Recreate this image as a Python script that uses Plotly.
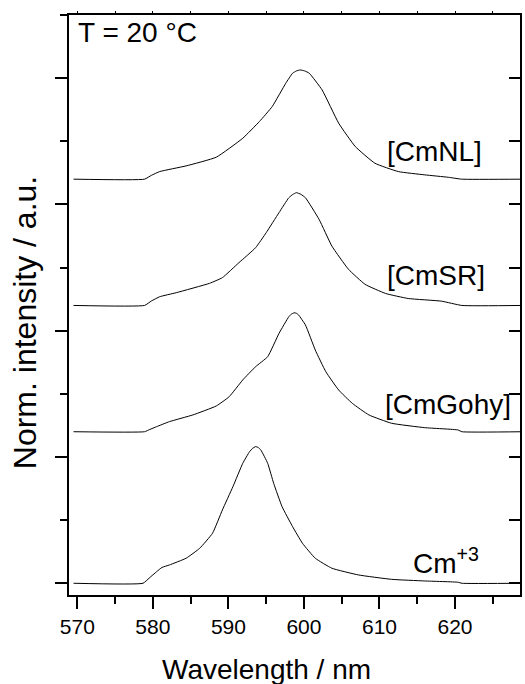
import plotly.graph_objects as go

# ---- data ----
series_names = ["Cm<sup>+3</sup>", "[CmGohy]", "[CmSR]", "[CmNL]"]
offsets = [0.0, 1.2, 2.2, 3.2]

wl_cm = [569.5, 578.7, 579.5, 580.5, 581.2, 582.2, 584.4, 586.2, 587.9, 589.2, 590.6, 591.9,
         592.8, 593.2, 593.6, 593.95, 594.3, 595.2, 596.0, 597.1, 598.5, 599.8, 601.5, 603.7,
         607.2, 611.6, 616.0, 620.4, 620.9, 629.0]
int_cm = [0, 0, 0.04, 0.092, 0.125, 0.145, 0.198, 0.277, 0.396, 0.58, 0.765, 0.95,
          1.042, 1.068, 1.082, 1.075, 1.055, 0.95, 0.79, 0.607, 0.448, 0.317, 0.198, 0.119,
          0.066, 0.031, 0.018, 0.008, 0, 0]

wl_gohy = [569.5, 578.9, 579.6, 580.5, 582.2, 585.3, 588.4, 590.1, 591.9, 593.6, 595.2, 596.7,
           598.0, 598.3, 598.7, 599.0, 599.3, 600.2, 601.5, 602.9, 604.6, 606.4, 608.6, 611.6,
           616.0, 620.4, 620.9, 629.0]
int_gohy = [0, 0, 0.018, 0.04, 0.08, 0.133, 0.204, 0.277, 0.41, 0.515, 0.594, 0.779,
            0.911, 0.93, 0.942, 0.938, 0.924, 0.845, 0.647, 0.475, 0.33, 0.225, 0.133, 0.067,
            0.032, 0.014, 0, 0]

wl_sr = [569.5, 578.9, 579.8, 580.9, 583.1, 587.5, 589.2, 591.4, 593.6, 595.0, 596.7, 598.0,
         598.5, 599.0, 599.6, 600.2, 602.0, 603.7, 605.9, 608.1, 610.8, 613.8, 618.2, 620.9, 629.0]
int_sr = [0, 0, 0.035, 0.069, 0.101, 0.175, 0.22, 0.339, 0.457, 0.576, 0.735, 0.853,
          0.878, 0.893, 0.88, 0.853, 0.682, 0.47, 0.286, 0.167, 0.095, 0.055, 0.034, 0, 0]

wl_nl = [569.5, 578.9, 579.8, 580.9, 584.4, 588.4, 591.9, 594.1, 595.8, 597.6, 598.5, 599.0,
         599.5, 600.1, 600.7, 602.4, 604.6, 606.8, 609.4, 612.5, 616.0, 619.1, 620.9, 629.0]
int_nl = [0, 0, 0.03, 0.06, 0.105, 0.174, 0.324, 0.456, 0.575, 0.76, 0.839, 0.857,
          0.865, 0.857, 0.839, 0.707, 0.443, 0.258, 0.126, 0.06, 0.034, 0.015, 0, 0]

x_ticks = [570, 580, 590, 600, 610, 620]
x_range = [568.9, 628.6]
y_range = [-0.093, 4.5]

wls = [wl_cm, wl_gohy, wl_sr, wl_nl]
ints = [int_cm, int_gohy, int_sr, int_nl]

FONT = "Arial, Liberation Sans, sans-serif"

fig = go.Figure()
for wl, iy, off in zip(wls, ints, offsets):
    fig.add_trace(go.Scatter(
        x=wl, y=[v + off for v in iy], mode="lines",
        line=dict(color="black", width=1, shape="spline", smoothing=0.4),
        showlegend=False, hoverinfo="skip"))

# helper traces to activate the mirror axes
fig.add_trace(go.Scatter(x=[x_range[0]], y=[y_range[0]], mode="markers",
                         marker=dict(opacity=0), xaxis="x2", yaxis="y",
                         showlegend=False, hoverinfo="skip"))
fig.add_trace(go.Scatter(x=[x_range[0]], y=[y_range[0]], mode="markers",
                         marker=dict(opacity=0), xaxis="x", yaxis="y2",
                         showlegend=False, hoverinfo="skip"))

fig.update_layout(
    width=525, height=684,
    margin=dict(l=69, r=3, t=15, b=89),
    paper_bgcolor="white", plot_bgcolor="white",
    font=dict(family=FONT, color="black"),
    xaxis=dict(range=x_range, tickvals=x_ticks, ticks="outside", ticklen=12, tickwidth=2,
               tickcolor="black", showline=True, linewidth=2, linecolor="black", mirror=True,
               showgrid=False, zeroline=False, tickfont=dict(size=21),
               minor=dict(dtick=5, tick0=570, ticks="outside", ticklen=7, tickwidth=2,
                          tickcolor="black", showgrid=False)),
    xaxis2=dict(range=x_range, overlaying="x", anchor="y", side="top", showticklabels=False,
                ticks="outside", ticklen=3, tickwidth=1, tickcolor="black", dtick=5, tick0=570,
                showline=False, showgrid=False, zeroline=False),
    yaxis=dict(range=y_range, dtick=1, tick0=0, ticks="outside", ticklen=12, tickwidth=2,
               tickcolor="black", showticklabels=False, showline=True, linewidth=2,
               linecolor="black", mirror=True, showgrid=False, zeroline=False,
               minor=dict(dtick=0.5, tick0=0, ticks="outside", ticklen=7, tickwidth=2,
                          tickcolor="black", showgrid=False)),
    yaxis2=dict(range=y_range, overlaying="y", anchor="x", side="right", dtick=0.5, tick0=0,
                ticks="inside", ticklen=11, tickwidth=2, tickcolor="black",
                showticklabels=False, showline=False, showgrid=False, zeroline=False),
)

# axis titles as annotations
fig.add_annotation(text="Wavelength / nm", xref="paper", yref="paper",
                   x=(267.5 - 69) / 453, y=(595 - 669) / 580, xanchor="center", yanchor="middle",
                   showarrow=False, font=dict(size=28, family=FONT))
fig.add_annotation(text="Norm. intensity / a.u.", xref="paper", yref="paper",
                   x=(25 - 69) / 453, y=(595 - 323) / 580, xanchor="center", yanchor="middle",
                   textangle=-90, showarrow=False, font=dict(size=32, family=FONT))
fig.add_annotation(text="T = 20 °C", xref="paper", yref="paper",
                   x=(76 - 69) / 453, y=(595 - 33) / 580, xanchor="left", yanchor="middle",
                   showarrow=False, font=dict(size=28, family=FONT))

# series labels
label_pos = [(413, 561), (384, 404), (386, 275), (386, 151)]
for name, (px, py) in zip(series_names, label_pos):
    fig.add_annotation(text=name, xref="paper", yref="paper",
                       x=(px - 69) / 453, y=(595 - py) / 580, xanchor="left", yanchor="middle",
                       showarrow=False, font=dict(size=28, family=FONT))

fig.write_html("out.html", post_script="document.body.style.margin='0';",
               config={"displayModeBar": False})
